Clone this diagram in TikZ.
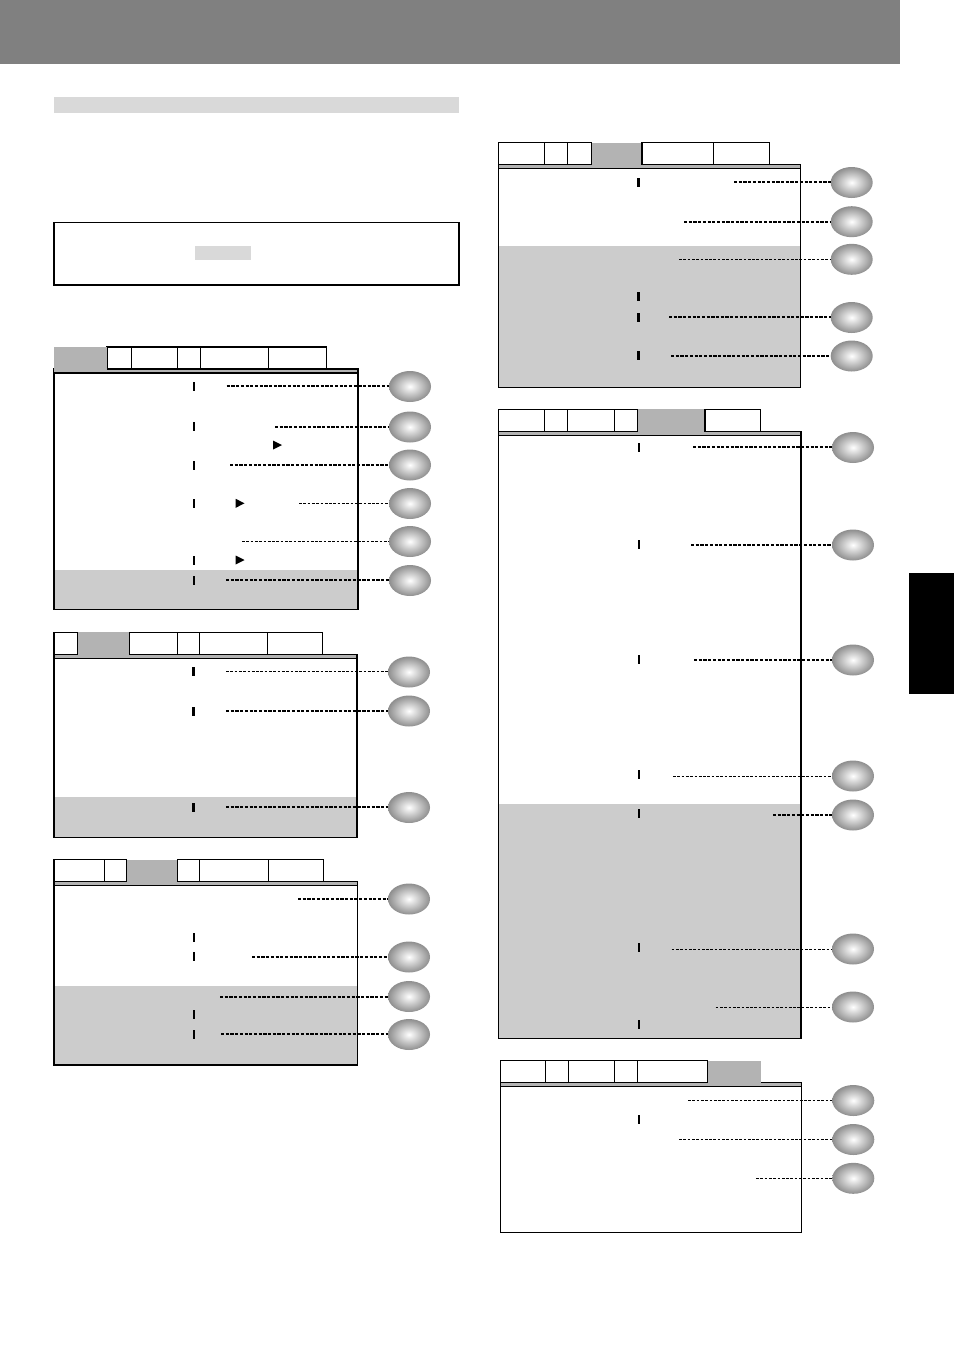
\documentclass[tikz,border=0pt]{standalone}
\usetikzlibrary{shapes.geometric}
\definecolor{headgray}{HTML}{808080}
\definecolor{lightbar}{HTML}{D9D9D9}
\definecolor{stripgray}{HTML}{B3B3B3}
\definecolor{shadegray}{HTML}{CCCCCC}
\definecolor{ballrim}{HTML}{8E8E8E}
\newcommand\menubody[7]{%
  \fill[shadegray] (#1,#7) rectangle (#2,#6);
  \draw[frame] (#1,#5) rectangle (#2,#6);
  \filldraw[frame,fill=stripgray] (#1,#4) rectangle (#2,#5);
}
\newcommand\menutab[4]{\draw[frame,fill=white] (#1,#3) rectangle (#2,#4);}
\newcommand\seltab[4]{\fill[stripgray] (#1,#3) rectangle (#2,#4);}
\tikzset{
  frame/.style={line width=1.2pt, draw=black},
  ball/.style={ellipse, minimum width=42pt, minimum height=31pt, inner sep=0pt,
    inner color=white, outer color=ballrim},
  tickmark/.style={fill=black, minimum width=2.6pt, minimum height=9pt, inner sep=0pt},
  leadthick/.style={line width=2pt, dash pattern=on 3.2pt off 1.5pt},
  leadthin/.style={line width=1pt, dash pattern=on 2.7pt off 1.6pt},
  tri/.style={fill=black}
}
\begin{document}
\begin{tikzpicture}[x=1pt,y=-1pt]
\useasboundingbox (0,0) rectangle (954,1350);
% header and page decorations
\fill[headgray] (0,0) rectangle (900,63.5);
\fill[lightbar] (54,97) rectangle (459,113);
\draw[line width=1.3pt] (54,222.5) rectangle (459,285);
\fill[lightbar] (195,245.5) rectangle (251,259.5);
\fill[black] (909,573) rectangle (954,694);

% ---------------- Panel 1 ----------------
\menubody{54}{358}{347}{369}{373}{609.5}{570}
\menutab{107}{131.5}{347}{369}
\menutab{131.5}{177.7}{347}{369}
\menutab{177.7}{200.7}{347}{369}
\menutab{200.7}{268.3}{347}{369}
\menutab{268.3}{326.3}{347}{369}
\seltab{54}{107}{347}{372.4}
\draw[frame] (54,373) -- (358,373);
\foreach \yy in {386,426,465,503,560,580} \node[tickmark] at (194,\yy) {};
\fill[tri] (273,440.5) -- (282,445) -- (273,449.5) -- cycle;
\fill[tri] (235.7,498.8) -- (244.5,503.3) -- (235.7,507.8) -- cycle;
\fill[tri] (235.7,555.5) -- (244.5,560) -- (235.7,564.5) -- cycle;
\node[ball] (p1a) at (410,386.5) {};
\node[ball] (p1b) at (410,427) {};
\node[ball] (p1c) at (410,465) {};
\node[ball] (p1d) at (410,503.5) {};
\node[ball] (p1e) at (410,541.5) {};
\node[ball] (p1f) at (410,580.5) {};
\coordinate (s1a) at (226.7,386);
\coordinate (s1b) at (275,427);
\coordinate (s1c) at (230,465);
\coordinate (s1d) at (299,503.5);
\coordinate (s1e) at (242,541.5);
\coordinate (s1f) at (226,580);
\draw[leadthick] (s1a) -- (s1a -| p1a.west);
\draw[leadthick] (s1b) -- (p1b.west);
\draw[leadthick] (s1c) -- (p1c.west);
\draw[leadthin] (s1d) -- (p1d.west);
\draw[leadthin] (s1e) -- (p1e.west);
\draw[leadthick] (s1f) -- (s1f -| p1f.west);

% ---------------- Panel 2 ----------------
\menubody{54}{357}{632.3}{654.3}{658.3}{837.3}{797}
\menutab{54}{77.3}{632.3}{654.3}
\menutab{129.3}{177.7}{632.3}{654.3}
\menutab{177.7}{199.3}{632.3}{654.3}
\menutab{199.3}{267.3}{632.3}{654.3}
\menutab{267.3}{322.7}{632.3}{654.3}
\seltab{77.9}{128.7}{632.3}{657.7}
\draw[frame] (54,658.3) -- (357,658.3);
\foreach \yy in {671.7,711,807.3} \node[tickmark] at (193.5,\yy) {};
\node[ball] (p2a) at (409,672) {};
\node[ball] (p2b) at (409,711) {};
\node[ball] (p2c) at (409,807.5) {};
\coordinate (s2a) at (226,671.5);
\coordinate (s2b) at (226,711);
\coordinate (s2c) at (226,807);
\draw[leadthin] (s2a) -- (s2a -| p2a.west);
\draw[leadthick] (s2b) -- (p2b.west);
\draw[leadthick] (s2c) -- (s2c -| p2c.west);

% ---------------- Panel 3 ----------------
\menubody{54}{357.5}{859.5}{881.7}{885.7}{1065}{986}
\menutab{54}{104.3}{859.5}{881.7}
\menutab{104.3}{126.7}{859.5}{881.7}
\menutab{177.3}{199.3}{859.5}{881.7}
\menutab{199.3}{268.3}{859.5}{881.7}
\menutab{268.3}{323.3}{859.5}{881.7}
\seltab{127.3}{176.7}{859.5}{885.1}
\draw[frame] (54,885.7) -- (357.5,885.7);
\foreach \yy in {937.3,956.7,1014,1034} \node[tickmark] at (194,\yy) {};
\node[ball] (p3a) at (409,899) {};
\node[ball] (p3b) at (409,957) {};
\node[ball] (p3c) at (409,996.5) {};
\node[ball] (p3d) at (409,1034.5) {};
\coordinate (s3a) at (298,899);
\coordinate (s3b) at (252,957);
\coordinate (s3c) at (220,997);
\coordinate (s3d) at (221,1034);
\draw[leadthick] (s3a) -- (p3a.west);
\draw[leadthick] (s3b) -- (p3b.west);
\draw[leadthick] (s3c) -- (s3c -| p3c.west);
\draw[leadthick] (s3d) -- (s3d -| p3d.west);

% ---------------- Panel A (right top) ----------------
\menubody{498.5}{800.7}{142.7}{164.3}{168.3}{387.3}{246}
\menutab{498.5}{544.3}{142.7}{164.3}
\menutab{544.3}{567.3}{142.7}{164.3}
\menutab{567.3}{591.7}{142.7}{164.3}
\menutab{642}{713.3}{142.7}{164.3}
\menutab{713.3}{769.3}{142.7}{164.3}
\seltab{592.3}{641.4}{142.7}{167.7}
\draw[frame] (498.5,168.3) -- (800.7,168.3);
\foreach \yy in {182,296.7,317.3,355.7} \node[tickmark] at (638.5,\yy) {};
\node[ball] (pAa) at (851.7,182.5) {};
\node[ball] (pAb) at (851.7,221.7) {};
\node[ball] (pAc) at (851.7,259.3) {};
\node[ball] (pAd) at (851.7,317.5) {};
\node[ball] (pAe) at (851.7,356) {};
\coordinate (sAa) at (734,182);
\coordinate (sAb) at (684,222);
\coordinate (sAc) at (679,259.3);
\coordinate (sAd) at (669,317);
\coordinate (sAe) at (671,356);
\draw[leadthick] (sAa) -- (sAa -| pAa.west);
\draw[leadthick] (sAb) -- (sAb -| pAb.west);
\draw[leadthin] (sAc) -- (pAc.west);
\draw[leadthick] (sAd) -- (sAd -| pAd.west);
\draw[leadthick] (sAe) -- (pAe.west);

% ---------------- Panel B (right middle) ----------------
\menubody{498.5}{801}{409.3}{431.7}{435.7}{1038.3}{804}
\menutab{498.5}{544.3}{409.3}{431.7}
\menutab{544.3}{567.3}{409.3}{431.7}
\menutab{567.3}{614.3}{409.3}{431.7}
\menutab{614.3}{637.7}{409.3}{431.7}
\menutab{705}{760.7}{409.3}{431.7}
\seltab{638.3}{704.4}{409.3}{435.1}
\draw[frame] (498.5,435.7) -- (801,435.7);
\foreach \yy in {447.3,544,659.3,774.3,813.3,947.3,1024.3} \node[tickmark] at (639,\yy) {};
\node[ball] (pBa) at (853,447.5) {};
\node[ball] (pBb) at (853,545) {};
\node[ball] (pBc) at (853,660) {};
\node[ball] (pBd) at (853,776) {};
\node[ball] (pBe) at (853,815) {};
\node[ball] (pBf) at (853,949) {};
\node[ball] (pBg) at (853,1007) {};
\coordinate (sBa) at (693,447);
\coordinate (sBb) at (691,545);
\coordinate (sBc) at (694,660);
\coordinate (sBd) at (673,776);
\coordinate (sBe) at (773,815);
\coordinate (sBf) at (671.7,949);
\coordinate (sBg) at (715.7,1007);
\draw[leadthick] (sBa) -- (sBa -| pBa.west);
\draw[leadthick] (sBb) -- (pBb.west);
\draw[leadthick] (sBc) -- (pBc.west);
\draw[leadthin] (sBd) -- (pBd.west);
\draw[leadthick] (sBe) -- (pBe.west);
\draw[leadthin] (sBf) -- (pBf.west);
\draw[leadthin] (sBg) -- (pBg.west);

% ---------------- Panel C (right bottom) ----------------
\menubody{500.7}{801.7}{1060.7}{1082.3}{1086.7}{1232.3}{1232.3}
\menutab{500.7}{545.3}{1060.7}{1082.3}
\menutab{545.3}{568.3}{1060.7}{1082.3}
\menutab{568.3}{614.3}{1060.7}{1082.3}
\menutab{614.3}{637.3}{1060.7}{1082.3}
\menutab{637.3}{707.3}{1060.7}{1082.3}
\seltab{707.9}{760.7}{1060.7}{1086.1}
\draw[frame] (500.7,1086.7) -- (801.7,1086.7);
\node[tickmark] at (639,1119.3) {};
\node[ball] (pCa) at (853.3,1100.5) {};
\node[ball] (pCb) at (853.3,1139.5) {};
\node[ball] (pCc) at (853.3,1178.3) {};
\coordinate (sCa) at (688,1100.5);
\coordinate (sCb) at (679,1139.5);
\coordinate (sCc) at (756,1178.3);
\draw[leadthin] (sCa) -- (pCa.west);
\draw[leadthin] (sCb) -- (pCb.west);
\draw[leadthin] (sCc) -- (pCc.west);
\end{tikzpicture}
\end{document}
